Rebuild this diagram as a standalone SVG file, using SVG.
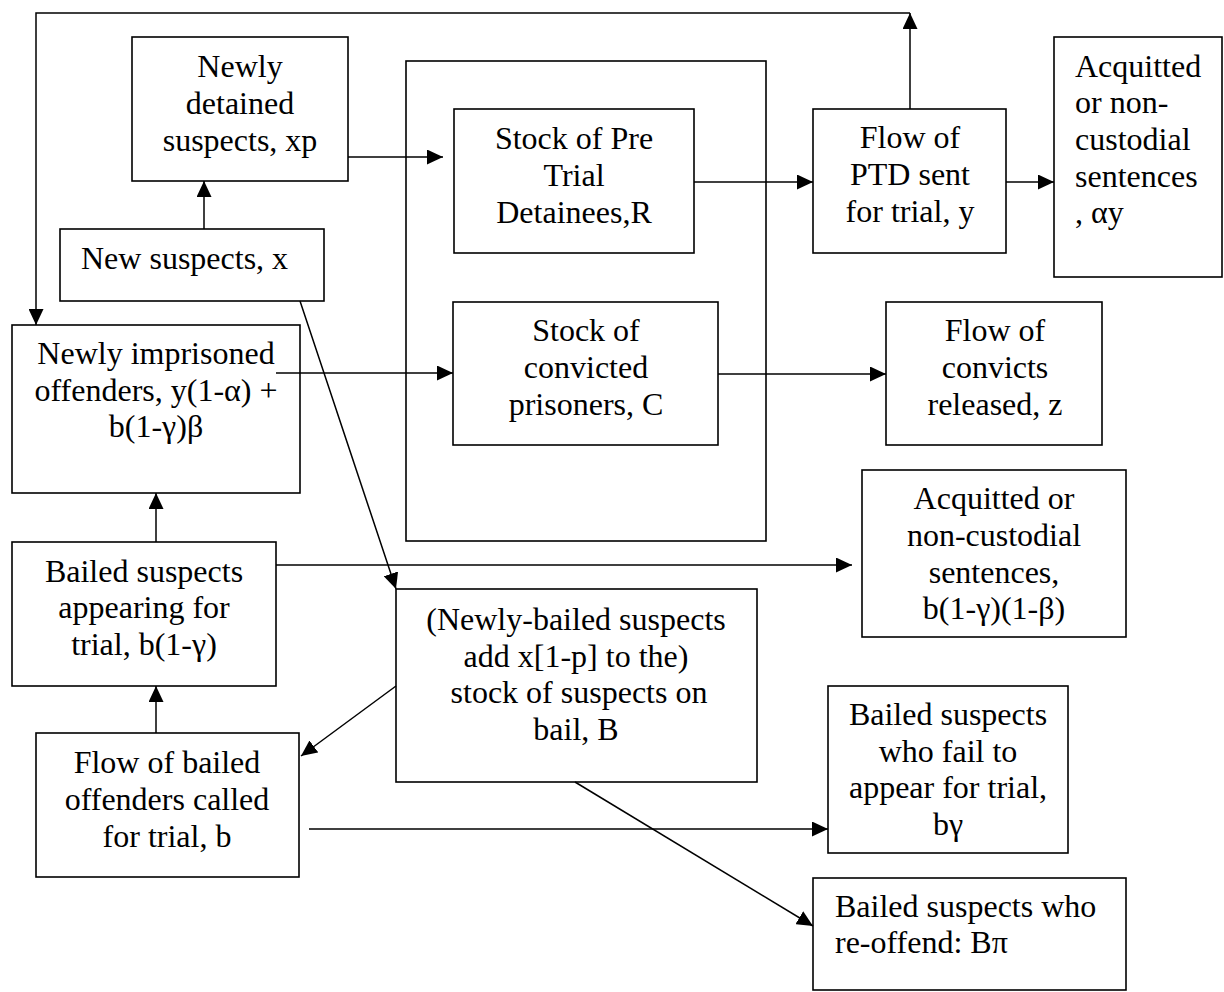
<svg xmlns="http://www.w3.org/2000/svg" width="1224" height="992" viewBox="0 0 1224 992">
<style>
.box{fill:#fff;stroke:#000;stroke-width:1.6}
.cont{fill:none;stroke:#000;stroke-width:1.6}
.ln{fill:none;stroke:#000;stroke-width:1.5}
.t{font-family:'Liberation Serif','Times New Roman',Tinos,'DejaVu Serif',serif;font-size:32px;fill:#000}
.c{text-anchor:middle}
</style>
<defs>
<marker id="ah" markerUnits="userSpaceOnUse" markerWidth="16" markerHeight="15" refX="16" refY="7.5" orient="auto">
<path d="M0,0 L16,7.5 L0,15 z" fill="#000"/>
</marker>
</defs>
<rect width="1224" height="992" fill="#fff"/>
<rect id="container" class="cont" x="406" y="61" width="360" height="480"/>
<g font-family="Liberation Serif, Times New Roman, DejaVu Serif, serif">
<g id="newly-detained"><rect class="box" x="132" y="37" width="216" height="144"/>
<text class="t c" x="240" y="77">Newly</text><text class="t c" x="240" y="114">detained</text><text class="t c" x="240" y="151">suspects, xp</text></g>
<g id="new-suspects"><rect class="box" x="60" y="229" width="264" height="72"/>
<text class="t" x="81" y="269">New suspects, x</text></g>
<g id="stock-pretrial"><rect class="box" x="454" y="109" width="240" height="144"/>
<text class="t c" x="574" y="149">Stock of Pre</text><text class="t c" x="574" y="186">Trial</text><text class="t c" x="574" y="223">Detainees,R</text></g>
<g id="ptd"><rect class="box" x="813" y="109" width="193" height="144"/>
<text class="t c" x="910" y="148">Flow of</text><text class="t c" x="910" y="185">PTD sent</text><text class="t c" x="910" y="222">for trial, y</text></g>
<g id="acquitted-top"><rect class="box" x="1054" y="37" width="168" height="240"/>
<text class="t" x="1075" y="77">Acquitted</text><text class="t" x="1075" y="113">or non-</text><text class="t" x="1075" y="150">custodial</text><text class="t" x="1075" y="187">sentences</text><text class="t" x="1075" y="223">, αy</text></g>
<g id="newly-imprisoned"><rect class="box" x="12" y="325" width="288" height="168"/>
<text class="t c" x="156" y="364">Newly imprisoned</text><text class="t c" x="156" y="401">offenders, y(1-α) +</text><text class="t c" x="156" y="437">b(1-γ)β</text></g>
<g id="stock-convicted"><rect class="box" x="453" y="302" width="265" height="143"/>
<text class="t c" x="586" y="341">Stock of</text><text class="t c" x="586" y="378">convicted</text><text class="t c" x="586" y="415">prisoners, C</text></g>
<g id="convicts-released"><rect class="box" x="886" y="302" width="216" height="143"/>
<text class="t c" x="995" y="341">Flow of</text><text class="t c" x="995" y="378">convicts</text><text class="t c" x="995" y="415">released, z</text></g>
<g id="acquitted-bottom"><rect class="box" x="862" y="470" width="264" height="167"/>
<text class="t c" x="994" y="509">Acquitted or</text><text class="t c" x="994" y="546">non-custodial</text><text class="t c" x="994" y="583">sentences,</text><text class="t c" x="994" y="619">b(1-γ)(1-β)</text></g>
<g id="bailed-appearing"><rect class="box" x="12" y="542" width="264" height="144"/>
<text class="t c" x="144" y="582">Bailed suspects</text><text class="t c" x="144" y="618">appearing for</text><text class="t c" x="144" y="655">trial, b(1-γ)</text></g>
<g id="stock-bail"><rect class="box" x="396" y="589" width="361" height="193"/>
<text class="t c" x="576" y="630">(Newly-bailed suspects</text><text class="t c" x="576" y="667">add x[1-p] to the)</text><text class="t c" x="579" y="703">stock of suspects on</text><text class="t c" x="576" y="740">bail, B</text></g>
<g id="flow-bailed"><rect class="box" x="36" y="733" width="263" height="144"/>
<text class="t c" x="167" y="773">Flow of bailed</text><text class="t c" x="167" y="810">offenders called</text><text class="t c" x="167" y="847">for trial, b</text></g>
<g id="bailed-fail"><rect class="box" x="828" y="686" width="240" height="167"/>
<text class="t c" x="948" y="725">Bailed suspects</text><text class="t c" x="948" y="762">who fail to</text><text class="t c" x="948" y="798">appear for trial,</text><text class="t c" x="948" y="835">bγ</text></g>
<g id="reoffend"><rect class="box" x="813" y="878" width="313" height="112"/>
<text class="t" x="835" y="917">Bailed suspects who</text><text class="t" x="835" y="953">re-offend: Bπ</text></g>
</g>
<g id="connectors">
<line class="ln" x1="204" y1="229" x2="204" y2="181" marker-end="url(#ah)"/>
<line class="ln" x1="348" y1="157" x2="443" y2="157" marker-end="url(#ah)"/>
<line class="ln" x1="694" y1="182" x2="813" y2="182" marker-end="url(#ah)"/>
<line class="ln" x1="1006" y1="182" x2="1054" y2="182" marker-end="url(#ah)"/>
<line class="ln" x1="910" y1="109" x2="910" y2="13" marker-end="url(#ah)"/>
<polyline class="ln" points="910,13 36,13 36,325" marker-end="url(#ah)"/>
<line class="ln" x1="276" y1="373" x2="453" y2="373" marker-end="url(#ah)"/>
<line class="ln" x1="718" y1="374" x2="886" y2="374" marker-end="url(#ah)"/>
<line class="ln" x1="156" y1="542" x2="156" y2="493" marker-end="url(#ah)"/>
<line class="ln" x1="276" y1="565" x2="852" y2="565" marker-end="url(#ah)"/>
<line class="ln" x1="300" y1="301" x2="396" y2="589" marker-end="url(#ah)"/>
<line class="ln" x1="396" y1="686" x2="301" y2="756" marker-end="url(#ah)"/>
<line class="ln" x1="156" y1="733" x2="156" y2="686" marker-end="url(#ah)"/>
<line class="ln" x1="309" y1="829" x2="828" y2="829" marker-end="url(#ah)"/>
<line class="ln" x1="575" y1="782" x2="813" y2="926" marker-end="url(#ah)"/>
</g>
</svg>
